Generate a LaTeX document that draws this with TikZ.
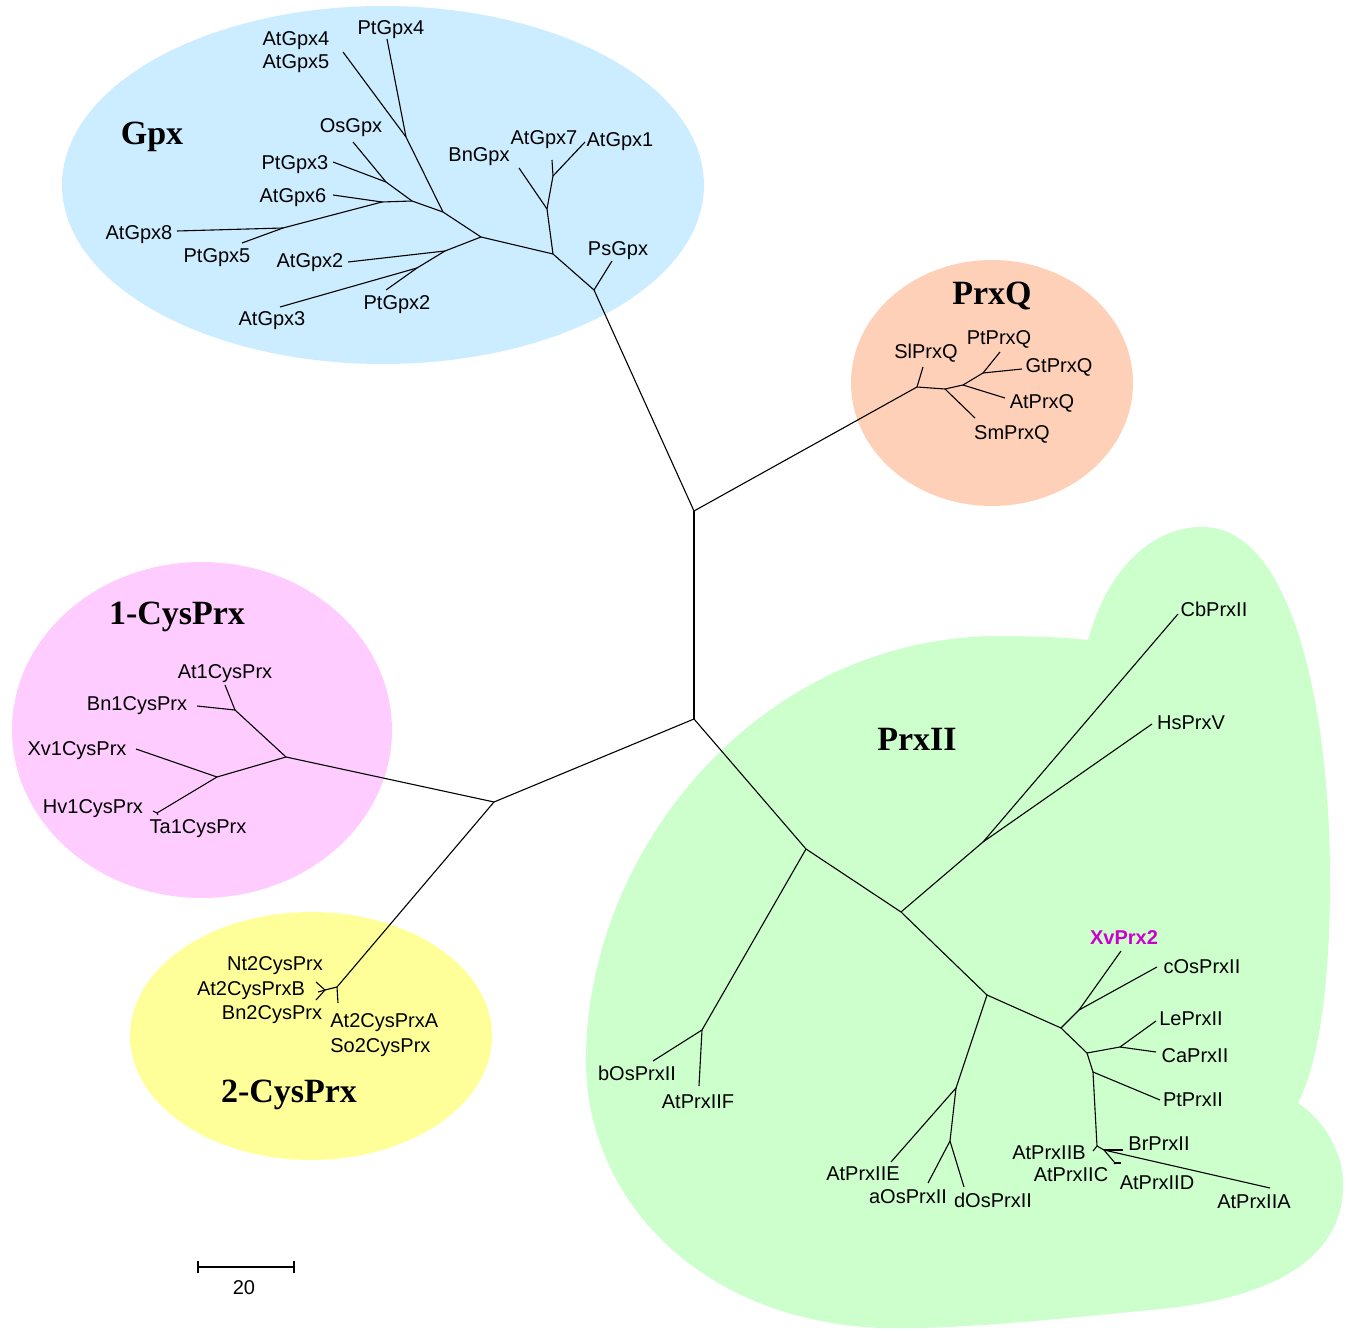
\documentclass[tikz,border=0pt]{standalone}
\usepackage{fontspec}
\setmainfont{Liberation Serif}
\setsansfont{Liberation Sans}
\usetikzlibrary{calc}
\definecolor{gpxblue}{HTML}{CCECFF}
\definecolor{prxqpeach}{HTML}{FFD0B8}
\definecolor{onecyspink}{HTML}{FFCCFF}
\definecolor{twocysyellow}{HTML}{FFFF99}
\definecolor{prxiigreen}{HTML}{CCFFCC}
\definecolor{xvmagenta}{HTML}{CC00CC}
\tikzset{
  lab/.style={font=\sffamily\fontsize{10}{11.5}\selectfont,inner sep=0pt,yshift=-1.2pt},
  grp/.style={font=\rmfamily\bfseries\fontsize{17}{20}\selectfont,inner sep=0pt,yshift=-1.5pt},
  branch/.style={line width=0.55pt,black}
}

\begin{document}
\begin{tikzpicture}[x=0.5pt,y=-0.5pt]
                      \useasboundingbox (0,0) rectangle (1351,1332);
                      % clade backgrounds
                      \fill[gpxblue] (383,185) ellipse [x radius=321,y radius=179];
                      \fill[prxqpeach] (992,383) ellipse [x radius=141,y radius=123];
                      \fill[onecyspink] (202,730) ellipse [x radius=190,y radius=168];
                      \fill[twocysyellow] (311,1036) ellipse [x radius=181,y radius=124];
                      \fill[prxiigreen] (1088,640) .. controls (1110,560) and (1160,525) .. (1205,527)
                        .. controls (1290,530) and (1330,700) .. (1330,880)
                        .. controls (1330,980) and (1320,1060) .. (1298,1103)
                        .. controls (1330,1125) and (1345,1160) .. (1343,1190)
                        .. controls (1340,1260) and (1270,1300) .. (1150,1310)
                        .. controls (1050,1320) and (950,1330) .. (880,1328)
                        .. controls (700,1320) and (586,1200) .. (586,1060)
                        .. controls (586,850) and (760,636) .. (1000,636)
                        .. controls (1040,636) and (1070,638) .. (1088,640) -- cycle;
                      % inner nodes
                      \coordinate (c1) at (694,511); \coordinate (c2) at (694,719); \coordinate (m0) at (494,802);
                      \coordinate (g0) at (594,290); \coordinate (g1) at (553,254); \coordinate (g2) at (547,209);
                      \coordinate (g3) at (553,176); \coordinate (g4) at (481,237); \coordinate (g5) at (443,212);
                      \coordinate (g6) at (406,137); \coordinate (g7) at (412,201); \coordinate (g8) at (386,182);
                      \coordinate (g9) at (382,202); \coordinate (g10) at (283,228); \coordinate (g11) at (445,251);
                      \coordinate (g12) at (417,268);
                      \coordinate (q0) at (917,387); \coordinate (q1) at (945,389); \coordinate (q2) at (963,385);
                      \coordinate (q3) at (983,373);
                      \coordinate (p0) at (286,757); \coordinate (p1) at (235,710); \coordinate (p2) at (217,777);
                      \coordinate (p3) at (157,813);
                      \coordinate (r0) at (337,987); \coordinate (r1) at (325,990);
                      \coordinate (e0) at (806,849); \coordinate (e1) at (702,1030); \coordinate (e2) at (901,912);
                      \coordinate (e3) at (987,995); \coordinate (e4) at (983,842); \coordinate (e5) at (956,1088);
                      \coordinate (e6) at (1061,1028); \coordinate (e7) at (950,1141); \coordinate (e8) at (1079,1010);
                      \coordinate (e9) at (1087,1053); \coordinate (e10) at (1120,1047); \coordinate (e11) at (1093,1072);
                      \coordinate (e12) at (1097,1146); \coordinate (e13) at (1104,1150); \coordinate (e14) at (1115,1163);
                      % leaf ends
                      \coordinate (tPsGpx) at (612,261); \coordinate (tBnGpx) at (519,168); \coordinate (tAtGpx7) at (552,160);
                      \coordinate (tAtGpx1) at (585,142); \coordinate (tAtGpx45) at (343,52); \coordinate (tPtGpx4) at (387,39);
                      \coordinate (tOsGpx) at (353,142); \coordinate (tPtGpx3) at (333,162); \coordinate (tAtGpx6) at (333,195);
                      \coordinate (tAtGpx8) at (177,231); \coordinate (tPtGpx5) at (242,243); \coordinate (tAtGpx2) at (348,262);
                      \coordinate (tAtGpx3) at (280,307); \coordinate (tPtGpx2) at (386,290);
                      \coordinate (tSlPrxQ) at (923,367); \coordinate (tSmPrxQ) at (975,418); \coordinate (tAtPrxQ) at (1005,398);
                      \coordinate (tPtPrxQ) at (1000,352); \coordinate (tGtPrxQ) at (1022,369);
                      \coordinate (tAt1) at (225,685); \coordinate (tBn1) at (197,706); \coordinate (tXv1) at (136,749);
                      \coordinate (tHv1) at (153,811); \coordinate (tTa1) at (158,815);
                      \coordinate (tAt2A) at (338,1003); \coordinate (tNt2) at (316,982); \coordinate (tAt2B) at (318,992);
                      \coordinate (tBn2) at (316,1000);
                      \coordinate (tbOs) at (653,1061); \coordinate (tAtF) at (699,1086); \coordinate (tCb) at (1178,614);
                      \coordinate (tHs) at (1152,724); \coordinate (tAtE) at (891,1162); \coordinate (taOs) at (928,1183);
                      \coordinate (tdOs) at (964,1187); \coordinate (tXv) at (1121,951); \coordinate (tcOs) at (1157,967);
                      \coordinate (tLe) at (1156,1021); \coordinate (tCa) at (1156,1052); \coordinate (tPt) at (1160,1100);
                      \coordinate (tAtB) at (1093,1151); \coordinate (tBr) at (1123,1150); \coordinate (tAtA) at (1270,1188);
                      \coordinate (tAtC) at (1114,1164); \coordinate (tAtD) at (1121,1163);
                      % branches
                      \foreach \a/\b in {c1/c2,c1/g0,c1/q0,c2/m0,m0/p0,m0/r0,c2/e0,
                        g0/tPsGpx,g0/g1,g1/g2,g1/g4,g2/tBnGpx,g2/g3,g3/tAtGpx7,g3/tAtGpx1,g4/g5,g4/g11,
                        g5/g6,g5/g7,g6/tAtGpx45,g6/tPtGpx4,g7/g8,g7/g9,g8/tOsGpx,g8/tPtGpx3,g9/tAtGpx6,g9/g10,
                        g10/tAtGpx8,g10/tPtGpx5,g11/tAtGpx2,g11/g12,g12/tAtGpx3,g12/tPtGpx2,
                        q0/tSlPrxQ,q0/q1,q1/tSmPrxQ,q1/q2,q2/tAtPrxQ,q2/q3,q3/tPtPrxQ,q3/tGtPrxQ,
                        p0/p1,p0/p2,p1/tAt1,p1/tBn1,p2/tXv1,p2/p3,p3/tHv1,p3/tTa1,
                        r0/tAt2A,r0/r1,r1/tNt2,r1/tAt2B,r1/tBn2,
                        e0/e1,e0/e2,e1/tbOs,e1/tAtF,e2/e4,e2/e3,e4/tCb,e4/tHs,e3/e5,e3/e6,e5/tAtE,e5/e7,
                        e7/taOs,e7/tdOs,e6/e8,e6/e9,e8/tXv,e8/tcOs,e9/e10,e9/e11,e10/tLe,e10/tCa,e11/tPt,
                        e11/e12,e12/tAtB,e12/e13,e13/e14,e13/tBr,e13/tAtA,e14/tAtC,e14/tAtD}
                        \draw[branch] (\a)--(\b);
                      % group titles
                      \node[grp] (nGpx) at (152,134) {Gpx};
                      \node[grp] (nPrxQ) at (992,293) {PrxQ};
                      \node[grp] (n1Cys) at (177,614) {1-CysPrx};
                      \node[grp] (n2Cys) at (289,1092) {2-CysPrx};
                      \node[grp] (nPrxII) at (917,736) {PrxII};
                      % leaf labels
                      \node[lab] (lPtGpx4) at (391,27) {PtGpx4};
                      \node[lab,align=left] (lAtGpx45) at (296,50) {AtGpx4\\AtGpx5};
                      \node[lab] (lOsGpx) at (351,125) {OsGpx};
                      \node[lab] (lPtGpx3) at (295,162) {PtGpx3};
                      \node[lab] (lAtGpx6) at (293,195) {AtGpx6};
                      \node[lab] (lAtGpx8) at (139,232) {AtGpx8};
                      \node[lab] (lPtGpx5) at (217,255) {PtGpx5};
                      \node[lab] (lAtGpx2) at (310,260) {AtGpx2};
                      \node[lab] (lPtGpx2) at (397,302) {PtGpx2};
                      \node[lab] (lAtGpx3) at (272,318) {AtGpx3};
                      \node[lab] (lBnGpx) at (479,154) {BnGpx};
                      \node[lab] (lAtGpx7) at (544,137) {AtGpx7};
                      \node[lab] (lAtGpx1) at (620,139) {AtGpx1};
                      \node[lab] (lPsGpx) at (618,248) {PsGpx};
                      \node[lab] (lSlPrxQ) at (926,351) {SlPrxQ};
                      \node[lab] (lPtPrxQ) at (999,337) {PtPrxQ};
                      \node[lab] (lGtPrxQ) at (1059,365) {GtPrxQ};
                      \node[lab] (lAtPrxQ) at (1042,401) {AtPrxQ};
                      \node[lab] (lSmPrxQ) at (1012,432) {SmPrxQ};
                      \node[lab] (lAt1) at (225,671) {At1CysPrx};
                      \node[lab] (lBn1) at (137,703) {Bn1CysPrx};
                      \node[lab] (lXv1) at (77,748) {Xv1CysPrx};
                      \node[lab] (lHv1) at (93,806) {Hv1CysPrx};
                      \node[lab] (lTa1) at (198,826) {Ta1CysPrx};
                      \node[lab] (lNt2) at (275,963) {Nt2CysPrx};
                      \node[lab] (lAt2B) at (251,988) {At2CysPrxB};
                      \node[lab] (lBn2) at (272,1012) {Bn2CysPrx};
                      \node[lab,align=left,anchor=west] (lAt2A) at (330,1033) {At2CysPrxA\\[1pt]So2CysPrx};
                      \node[lab] (lCb) at (1214,607) {CbPrxII};
                      \node[lab] (lHs) at (1191,720) {HsPrxV};
                      \node[lab,font=\sffamily\bfseries\fontsize{10}{12}\selectfont,text=xvmagenta] (lXv) at (1124,935) {XvPrx2};
                      \node[lab] (lcOs) at (1202,964) {cOsPrxII};
                      \node[lab] (lLe) at (1191,1016) {LePrxII};
                      \node[lab] (lCa) at (1195,1053) {CaPrxII};
                      \node[lab] (lPt) at (1193,1097) {PtPrxII};
                      \node[lab] (lBr) at (1159,1141) {BrPrxII};
                      \node[lab] (lAtB) at (1049,1150) {AtPrxIIB};
                      \node[lab] (lAtC) at (1071,1172) {AtPrxIIC};
                      \node[lab] (lAtD) at (1157,1180) {AtPrxIID};
                      \node[lab] (lAtA) at (1254,1199) {AtPrxIIA};
                      \node[lab] (lAtE) at (863,1171) {AtPrxIIE};
                      \node[lab] (laOs) at (908,1194) {aOsPrxII};
                      \node[lab] (ldOs) at (993,1198) {dOsPrxII};
                      \node[lab] (lbOs) at (637,1071) {bOsPrxII};
                      \node[lab] (lAtF) at (698,1099) {AtPrxIIF};
                      % scale bar
                      \coordinate (sbl) at (198,1267); \coordinate (sbr) at (294,1267);
                      \draw[line width=1pt] (sbl)--(sbr);
                      \draw[line width=0.8pt] ($(sbl)+(0,-6)$)--($(sbl)+(0,6)$) ($(sbr)+(0,-6)$)--($(sbr)+(0,6)$);
                      \node[lab] (lScale) at (244,1285) {20};
                  \end{tikzpicture}
\end{document}
